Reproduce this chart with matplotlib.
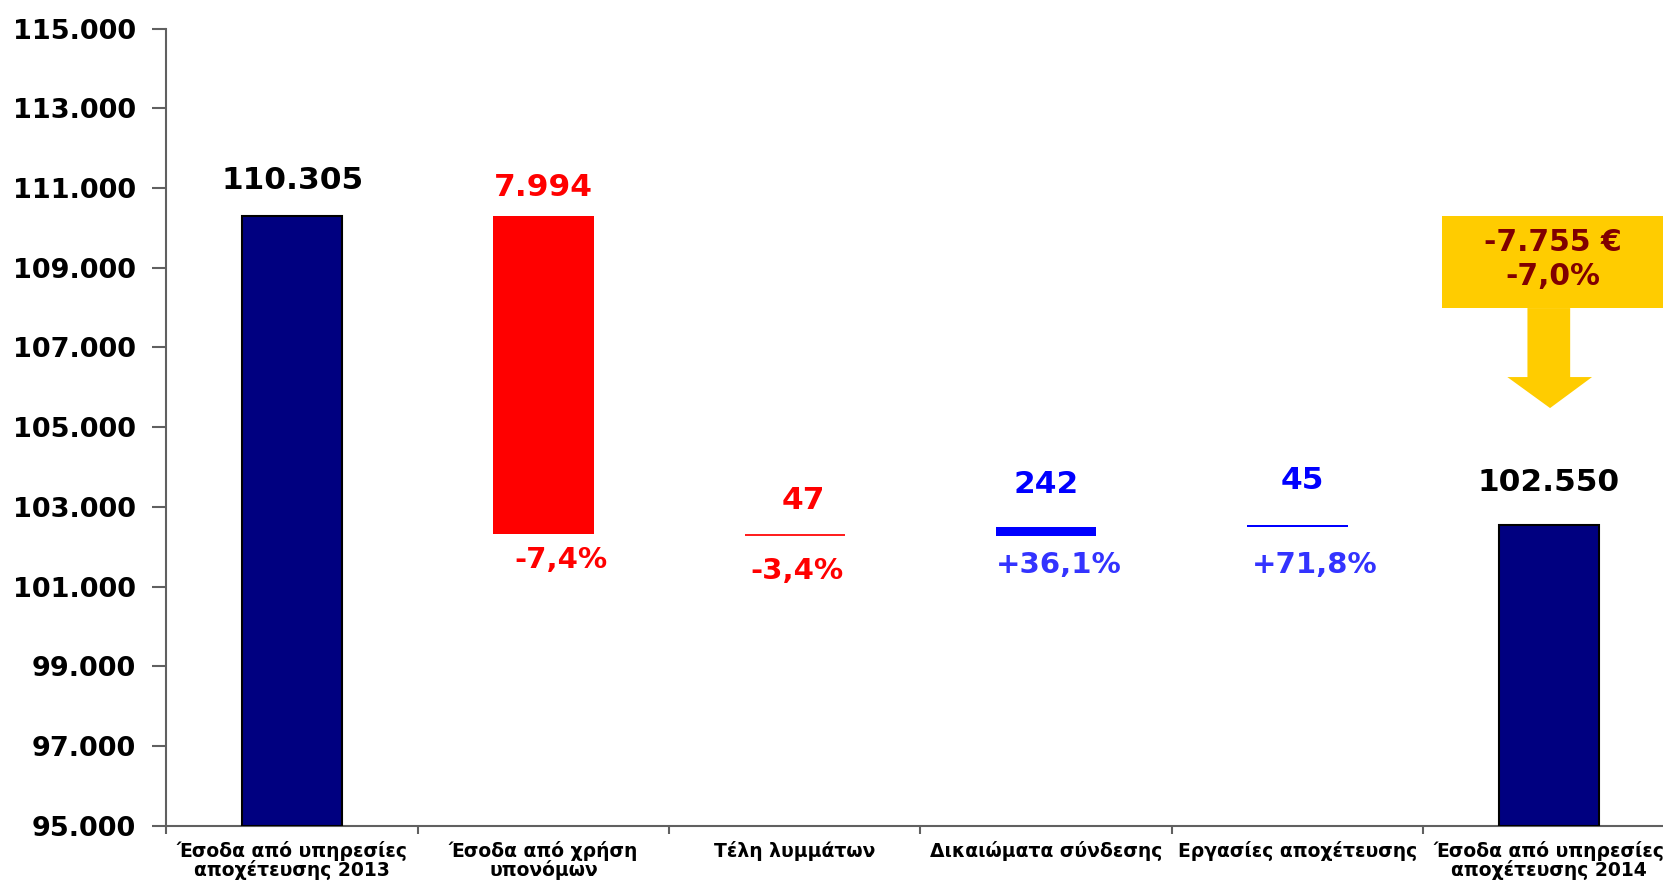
import matplotlib
matplotlib.use("Agg")
import matplotlib.pyplot as plt
from matplotlib.patches import Polygon, Rectangle
from matplotlib.ticker import FixedLocator, FuncFormatter

plt.rcParams['font.family'] = ['DejaVu Sans']

# ---- data ----
categories = ["Έσοδα από υπηρεσίες\nαποχέτευσης 2013",
              "Έσοδα από χρήση\nυπονόμων",
              "Τέλη λυμμάτων",
              "Δικαιώματα σύνδεσης",
              "Εργασίες αποχέτευσης",
              "Έσοδα από υπηρεσίες\nαποχέτευσης 2014"]
values = [110305, -7994, -47, 242, 45, 102550]
is_total = [True, False, False, False, False, True]
value_labels = ["110.305", "7.994", "47", "242", "45", "102.550"]
pct_labels = ["", "-7,4%", "-3,4%", "+36,1%", "+71,8%", ""]
total_change_label = "-7.755 €\n-7,0%"
yticks = list(range(95000, 115001, 2000))

# ---- styling / layout ----
bar_colors = ["#000080", "#FF0000", "#FF2020", "#0000FF", "#0000FF", "#000080"]
val_colors = ["#000000", "#FF0000", "#FF0000", "#0000FF", "#0000FF", "#000000"]
pct_colors = ["", "#FF0000", "#FF0000", "#3333FF", "#3333FF", ""]
val_dx = [0, 0, 0.035, 0, 0.02, 0]
val_dy = [886, 700, 838, 1043, 1104, 1052]
pct_dx = [0, 0.07, 0.01, 0.05, 0.07, 0]
pct_dy = [0, -653, -873, -713, -955, 0]

fig = plt.figure(figsize=(16.63, 8.83), dpi=100)
ax = fig.add_axes([0.1001, 0.0649, 0.9068, 0.9027])

# waterfall geometry
bottoms, tops = [], []
running = 0
for v, tot in zip(values, is_total):
    if tot:
        b, t = 95000, v
        running = v
    else:
        start = running
        running = running + v
        b, t = min(start, running), max(start, running)
    bottoms.append(b)
    tops.append(t)

x = list(range(len(categories)))
w = 0.4
for i in x:
    ec = "#000000" if is_total[i] else "none"
    lw = 1.5 if is_total[i] else 0
    ax.bar(i, tops[i] - bottoms[i], bottom=bottoms[i], width=w,
           color=bar_colors[i], edgecolor=ec, linewidth=lw, zorder=3)
    ax.text(i + val_dx[i], tops[i] + val_dy[i], value_labels[i],
            ha="center", va="center", fontsize=22.5, fontweight="bold",
            color=val_colors[i], zorder=5)
    if pct_labels[i]:
        ax.text(i + pct_dx[i], bottoms[i] + pct_dy[i], pct_labels[i],
                ha="center", va="center", fontsize=21, fontweight="bold",
                color=pct_colors[i], zorder=5)

# summary box with arrow over last category
gold = "#FFCC00"
xc = x[-1]
box = Rectangle((xc - 0.423, 107988), 1.0, 110296 - 107988,
                facecolor=gold, edgecolor="none", zorder=4)
ax.add_patch(box)
arrow = Polygon([(xc - 0.085, 107988), (xc + 0.085, 107988),
                 (xc + 0.085, 106257), (xc + 0.172, 106257),
                 (xc + 0.005, 105479), (xc - 0.165, 106257),
                 (xc - 0.085, 106257)], closed=True,
                facecolor=gold, edgecolor="none", zorder=4)
ax.add_patch(arrow)
ax.text(xc + 0.015, 109205, total_change_label, ha="center", va="center",
        fontsize=21.5, fontweight="bold", color="#800000",
        linespacing=1.2, zorder=6)

# axes
ax.set_xlim(-0.5, 5.5)
ax.set_ylim(95000, 115000)
ax.set_yticks(yticks)
ax.yaxis.set_major_formatter(FuncFormatter(lambda v, p: f"{int(v):,}".replace(",", ".")))
ax.set_xticks(x)
ax.set_xticklabels(categories)
ax.xaxis.set_minor_locator(FixedLocator([i + 0.5 for i in range(-1, 6)]))

for s in ["top", "right"]:
    ax.spines[s].set_visible(False)
for s in ["left", "bottom"]:
    ax.spines[s].set_color("#606060")
    ax.spines[s].set_linewidth(1.5)

ax.tick_params(axis="y", which="major", direction="out", length=10, width=1.5,
               color="#606060", pad=12, labelsize=19.5)
for lab in ax.get_yticklabels():
    lab.set_fontweight("bold")
ax.tick_params(axis="x", which="major", length=0, pad=11, labelsize=13.5)
ax.tick_params(axis="x", which="minor", direction="out", length=6, width=1.5,
               color="#606060")
for lab in ax.get_xticklabels():
    lab.set_fontweight("bold")
    lab.set_linespacing(0.95)

fig.savefig("out.png", dpi=100)
